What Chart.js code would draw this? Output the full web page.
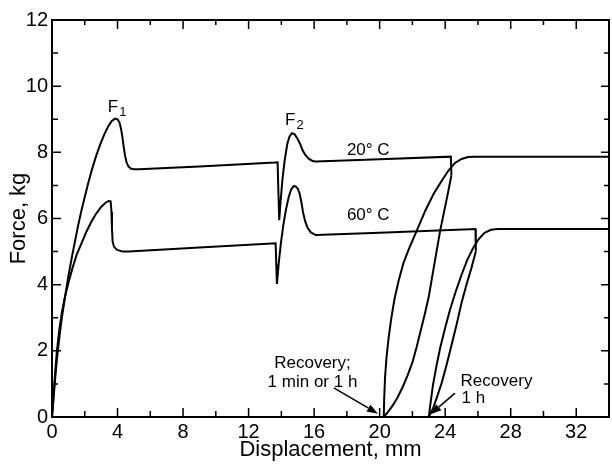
<!DOCTYPE html>
<html>
<head>
<meta charset="utf-8">
<script src="https://cdn.jsdelivr.net/npm/chart.js@4.4.0/dist/chart.umd.min.js"></script>
<style>
  html, body { margin: 0; padding: 0; background: #fff; }
  #wrap { width: 612px; height: 464px; }
</style>
</head>
<body>
<div id="wrap"><canvas id="chart" width="612" height="464"></canvas></div>
<script>
// [displacement mm, force kg]

// 20 C: first loading, F1 peak, plateau, F2 peak, plateau, then unloading
const load20 = [
  [0, 0], [0.1, 0.6], [0.2, 1.2], [0.3, 1.75], [0.45, 2.4], [0.6, 3.0], [0.8, 3.65],
  [1.0, 4.25], [1.2, 4.8], [1.4, 5.3], [1.6, 5.8], [1.8, 6.25], [2.0, 6.65], [2.2, 7.05],
  [2.45, 7.5], [2.7, 7.9], [2.95, 8.25], [3.2, 8.55], [3.45, 8.8], [3.65, 8.95], [3.85, 9.02],
  [4.0, 9.0], [4.12, 8.9], [4.22, 8.7], [4.3, 8.45], [4.38, 8.15], [4.46, 7.9], [4.55, 7.7],
  [4.65, 7.58], [4.8, 7.51], [5.0, 7.49], [5.3, 7.49], [9, 7.57], [13.6, 7.69], [13.77, 7.7],
  [13.82, 6.8], [13.87, 5.95], [13.95, 6.5], [14.07, 7.2], [14.2, 7.75], [14.37, 8.27],
  [14.5, 8.48], [14.64, 8.58], [14.8, 8.55], [14.98, 8.42], [15.15, 8.25], [15.29, 8.07],
  [15.45, 7.93], [15.69, 7.8], [15.9, 7.74], [16.1, 7.72], [20, 7.79], [24.35, 7.87], [24.38, 7.3]
];
const unload20 = [
  [24.38, 7.3], [24.1, 6.6], [23.7, 5.65], [23.35, 4.65], [23.0, 3.64], [22.75, 3.1],
  [22.5, 2.6], [22.25, 2.1], [22.0, 1.65], [21.7, 1.25], [21.4, 0.9], [21.1, 0.6],
  [20.8, 0.35], [20.5, 0.15], [20.25, 0]
];
const reload20 = [
  [20.25, 0], [20.28, 0.6], [20.33, 1.2], [20.42, 1.8], [20.55, 2.4], [20.7, 2.95],
  [20.9, 3.55], [21.15, 4.1], [21.45, 4.65], [21.8, 5.1], [22.28, 5.65], [22.8, 6.25],
  [23.3, 6.75], [23.8, 7.15], [24.2, 7.45], [24.6, 7.68], [25.0, 7.8], [25.4, 7.86],
  [25.8, 7.87], [34, 7.87]
];

// 60 C
const load60 = [
  [0, 0], [0.1, 0.7], [0.2, 1.4], [0.3, 2.0], [0.45, 2.65], [0.6, 3.15], [0.8, 3.65],
  [1.0, 4.05], [1.25, 4.5], [1.5, 4.9], [1.8, 5.25], [2.1, 5.6], [2.4, 5.9], [2.7, 6.15],
  [3.0, 6.35], [3.25, 6.47], [3.45, 6.53], [3.58, 6.52], [3.63, 6.2], [3.66, 5.7], [3.7, 5.3],
  [3.78, 5.15], [3.95, 5.06], [4.3, 5.0], [4.7, 5.0], [9, 5.12], [13.65, 5.25], [13.69, 4.6],
  [13.73, 4.02], [13.85, 4.7], [13.97, 5.25], [14.12, 5.8], [14.28, 6.26], [14.45, 6.65],
  [14.6, 6.88], [14.75, 6.98], [14.88, 6.97], [15.0, 6.9], [15.12, 6.75], [15.22, 6.5],
  [15.32, 6.2], [15.45, 5.92], [15.6, 5.72], [15.8, 5.58], [16.1, 5.5], [20, 5.57],
  [25.85, 5.68], [25.87, 5.0]
];
const unload60 = [
  [25.87, 5.0], [25.6, 4.5], [25.3, 4.0], [25.0, 3.45], [24.7, 2.8], [24.4, 2.2],
  [24.1, 1.6], [23.8, 1.05], [23.5, 0.6], [23.25, 0.25], [23.0, 0]
];
const reload60 = [
  [23.0, 0], [23.1, 0.4], [23.25, 0.95], [23.45, 1.5], [23.7, 2.1], [24.0, 2.7],
  [24.3, 3.25], [24.65, 3.8], [25.0, 4.3], [25.35, 4.75], [25.7, 5.1], [26.05, 5.38],
  [26.4, 5.57], [26.8, 5.66], [27.2, 5.68], [34, 5.68]
];

// axes
const xMin = 0, xMax = 34, xStep = 2, xLabelEvery = 4;
const yMin = 0, yMax = 12, yStep = 1, yLabelEvery = 2;

// text labels on the plot: [text, x, y]
const curveLabels = [['20\u00b0 C', 18.0, 7.92], ['60\u00b0 C', 18.0, 5.96]];
const peakLabels = [['F', '1', 3.41, 9.22], ['F', '2', 14.23, 8.83]];
const recoveryNotes = [
  ['Recovery;', 15.9, 1.48, 'center'], ['1 min or 1 h', 15.9, 0.91, 'center'],
  ['Recovery', 24.94, 0.94, 'left'], ['1 h', 25.0, 0.42, 'left']
];
// arrows: [fromX, fromY, toX, toY]
const arrows = [[17.2, 0.88, 19.9, 0.1], [24.6, 0.72, 23.1, 0.08]];

const FONT = '"Liberation Sans", Arial, Helvetica, sans-serif';

function pts(arr) {
  return arr.map(p => ({ x: p[0], y: p[1] }));
}

function curve(arr) {
  return {
    data: pts(arr),
    showLine: true,
    borderColor: '#000',
    borderWidth: 2,
    pointRadius: 0,
    tension: 0,
    fill: false
  };
}

// box frame with inward ticks on all four sides
const frameTicks = {
  id: 'frameTicks',
  afterDraw(chart) {
    const { ctx, chartArea: a, scales: { x, y } } = chart;
    ctx.save();
    ctx.strokeStyle = '#000';
    ctx.lineWidth = 2;
    ctx.strokeRect(a.left, a.top, a.right - a.left, a.bottom - a.top);
    ctx.lineWidth = 1.5;
    ctx.beginPath();
    x.ticks.forEach(t => {
      const px = x.getPixelForValue(t.value);
      const major = t.value % xLabelEvery === 0;
      ctx.moveTo(px, a.bottom); ctx.lineTo(px, a.bottom - (major ? 9 : 6));
      ctx.moveTo(px, a.top); ctx.lineTo(px, a.top + (major ? 9 : 5));
    });
    y.ticks.forEach(t => {
      const py = y.getPixelForValue(t.value);
      const major = t.value % yLabelEvery === 0;
      ctx.moveTo(a.left, py); ctx.lineTo(a.left + (major ? 9 : 6), py);
      ctx.moveTo(a.right, py); ctx.lineTo(a.right - (major ? 8 : 5), py);
    });
    ctx.stroke();
    ctx.restore();
  }
};

const notes = {
  id: 'notes',
  afterDraw(chart) {
    const { ctx, scales: { x, y } } = chart;
    ctx.save();
    ctx.fillStyle = '#000';
    ctx.strokeStyle = '#000';
    ctx.textBaseline = 'alphabetic';

    ctx.font = '17px ' + FONT;
    ctx.textAlign = 'left';
    curveLabels.forEach(l => ctx.fillText(l[0], x.getPixelForValue(l[1]), y.getPixelForValue(l[2])));

    peakLabels.forEach(l => {
      const px = x.getPixelForValue(l[2]);
      const py = y.getPixelForValue(l[3]);
      ctx.font = '17px ' + FONT;
      ctx.fillText(l[0], px, py);
      const w = ctx.measureText(l[0]).width;
      ctx.font = '13px ' + FONT;
      ctx.fillText(l[1], px + w + 1, py + 4);
    });

    ctx.font = '17px ' + FONT;
    recoveryNotes.forEach(l => {
      ctx.textAlign = l[3];
      ctx.fillText(l[0], x.getPixelForValue(l[1]), y.getPixelForValue(l[2]));
    });

    ctx.lineWidth = 1.5;
    arrows.forEach(a => {
      const x0 = x.getPixelForValue(a[0]), y0 = y.getPixelForValue(a[1]);
      const x1 = x.getPixelForValue(a[2]), y1 = y.getPixelForValue(a[3]);
      const ang = Math.atan2(y1 - y0, x1 - x0);
      const hl = 11, hw = 4;
      const bx = x1 - hl * Math.cos(ang), by = y1 - hl * Math.sin(ang);
      ctx.beginPath();
      ctx.moveTo(x0, y0);
      ctx.lineTo(bx, by);
      ctx.stroke();
      ctx.beginPath();
      ctx.moveTo(x1, y1);
      ctx.lineTo(bx + hw * Math.sin(ang), by - hw * Math.cos(ang));
      ctx.lineTo(bx - hw * Math.sin(ang), by + hw * Math.cos(ang));
      ctx.closePath();
      ctx.fill();
    });
    ctx.restore();
  }
};

new Chart(document.getElementById('chart'), {
  type: 'scatter',
  data: {
    datasets: [load20, unload20, reload20, load60, unload60, reload60].map(curve)
  },
  options: {
    responsive: false,
    devicePixelRatio: 1,
    animation: false,
    layout: { padding: { top: 20, right: 2, left: 0, bottom: 0 } },
    plugins: { legend: { display: false }, tooltip: { enabled: false } },
    scales: {
      x: {
        type: 'linear',
        min: xMin,
        max: xMax,
        afterFit: s => { s.height = 47; },
        grid: { display: false, drawTicks: false },
        border: { display: false },
        ticks: {
          stepSize: xStep,
          autoSkip: false,
          maxRotation: 0,
          padding: 3,
          color: '#000',
          font: { family: FONT, size: 20 },
          callback: v => (v % xLabelEvery === 0 && v < xMax ? String(v) : '')
        },
        title: {
          display: true,
          text: 'Displacement, mm',
          color: '#000',
          font: { family: FONT, size: 22 },
          padding: { top: 0, bottom: 1 }
        }
      },
      y: {
        type: 'linear',
        min: yMin,
        max: yMax,
        afterFit: s => { s.width = 52; },
        grid: { display: false, drawTicks: false },
        border: { display: false },
        ticks: {
          stepSize: yStep,
          autoSkip: false,
          padding: 4,
          color: '#000',
          font: { family: FONT, size: 20 },
          callback: v => (v % yLabelEvery === 0 ? String(v) : '')
        },
        title: {
          display: true,
          text: 'Force, kg',
          color: '#000',
          font: { family: FONT, size: 22 },
          padding: { top: 6, bottom: 0 }
        }
      }
    }
  },
  plugins: [frameTicks, notes]
});
</script>
</body>
</html>
